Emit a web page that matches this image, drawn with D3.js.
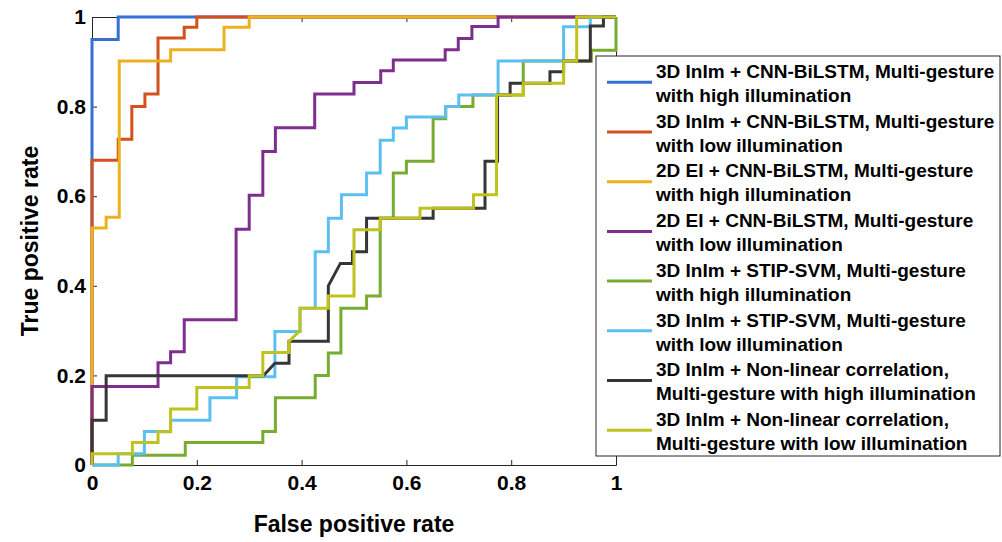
<!DOCTYPE html>
<html>
<head>
<meta charset="utf-8">
<script src="https://cdn.jsdelivr.net/npm/d3@7"></script>
<style>
  html, body { margin: 0; padding: 0; background: #fff; }
  svg { display: block; }
  text { font-family: "Liberation Sans", Arial, Helvetica, sans-serif; font-weight: bold; fill: #000; }
</style>
</head>
<body>
<svg id="chart" width="1002" height="542"></svg>
<script>
// ---------------- DATA ----------------
const xTicks = [0, 0.2, 0.4, 0.6, 0.8, 1];
const yTicks = [0, 0.2, 0.4, 0.6, 0.8, 1];
const xTickLabels = ["0", "0.2", "0.4", "0.6", "0.8", "1"];
const yTickLabels = ["0", "0.2", "0.4", "0.6", "0.8", "1"];
const xLabel = "False positive rate";
const yLabel = "True positive rate";

const legendLine1 = [
  "3D InIm + CNN-BiLSTM, Multi-gesture",
  "3D InIm + CNN-BiLSTM, Multi-gesture",
  "2D EI + CNN-BiLSTM, Multi-gesture",
  "2D EI + CNN-BiLSTM, Multi-gesture",
  "3D InIm + STIP-SVM, Multi-gesture",
  "3D InIm + STIP-SVM, Multi-gesture",
  "3D InIm + Non-linear correlation,",
  "3D InIm + Non-linear correlation,"
];
const legendLine2 = [
  "with high illumination",
  "with low illumination",
  "with high illumination",
  "with low illumination",
  "with high illumination",
  "with low illumination",
  "Multi-gesture with high illumination",
  "Multi-gesture with low illumination"
];
const colors = ["#3471d2", "#d4501c", "#edb120", "#7e2f8e", "#77ac30", "#5cbff2", "#363636", "#c0c21e"];

// 1: 3D InIm + CNN-BiLSTM, high illumination
const fpr1 = [0, 0, 0.05, 0.05, 1];
const tpr1 = [0, 0.95, 0.95, 1, 1];
// 2: 3D InIm + CNN-BiLSTM, low illumination
const fpr2 = [0, 0, 0.05, 0.05, 0.076, 0.076, 0.101, 0.101, 0.126, 0.126, 0.176, 0.176, 0.2, 0.2, 1];
const tpr2 = [0, 0.68, 0.68, 0.727, 0.727, 0.80, 0.80, 0.828, 0.828, 0.953, 0.953, 0.977, 0.977, 1, 1];
// 3: 2D EI + CNN-BiLSTM, high illumination
const fpr3 = [0, 0, 0.027, 0.027, 0.052, 0.052, 0.15, 0.15, 0.252, 0.252, 0.30, 0.30, 1];
const tpr3 = [0, 0.529, 0.529, 0.553, 0.553, 0.902, 0.902, 0.927, 0.927, 0.977, 0.977, 1, 1];
// 4: 2D EI + CNN-BiLSTM, low illumination
const fpr4 = [0, 0, 0.126, 0.126, 0.15, 0.15, 0.176, 0.176, 0.275, 0.275, 0.30, 0.30, 0.326, 0.326, 0.35, 0.35, 0.425, 0.425, 0.50, 0.50, 0.551, 0.551, 0.575, 0.575, 0.674, 0.674, 0.699, 0.699, 0.725, 0.725, 0.775, 0.775, 1];
const tpr4 = [0, 0.175, 0.175, 0.228, 0.228, 0.253, 0.253, 0.324, 0.324, 0.526, 0.526, 0.602, 0.602, 0.70, 0.70, 0.753, 0.753, 0.828, 0.828, 0.854, 0.854, 0.88, 0.88, 0.904, 0.904, 0.927, 0.927, 0.952, 0.952, 0.979, 0.979, 1, 1];
// 5: 3D InIm + STIP-SVM, high illumination
const fpr5 = [0, 0.077, 0.077, 0.178, 0.178, 0.326, 0.326, 0.35, 0.35, 0.426, 0.426, 0.451, 0.451, 0.475, 0.475, 0.524, 0.524, 0.55, 0.55, 0.575, 0.575, 0.60, 0.60, 0.651, 0.651, 0.675, 0.675, 0.727, 0.727, 0.823, 0.823, 0.953, 0.953, 1, 1];
const tpr5 = [0, 0, 0.022, 0.022, 0.05, 0.05, 0.075, 0.075, 0.15, 0.15, 0.20, 0.20, 0.25, 0.25, 0.35, 0.35, 0.377, 0.377, 0.551, 0.551, 0.652, 0.652, 0.678, 0.678, 0.773, 0.773, 0.80, 0.80, 0.826, 0.826, 0.902, 0.902, 0.926, 0.926, 1];
// 6: 3D InIm + STIP-SVM, low illumination
const fpr6 = [0, 0.05, 0.05, 0.10, 0.10, 0.15, 0.15, 0.225, 0.225, 0.276, 0.276, 0.349, 0.349, 0.397, 0.397, 0.426, 0.426, 0.451, 0.451, 0.476, 0.476, 0.524, 0.524, 0.55, 0.55, 0.575, 0.575, 0.60, 0.60, 0.675, 0.675, 0.70, 0.70, 0.775, 0.775, 0.90, 0.90, 0.951, 0.951, 1];
const tpr6 = [0, 0, 0.025, 0.025, 0.075, 0.075, 0.10, 0.10, 0.15, 0.15, 0.197, 0.197, 0.298, 0.298, 0.35, 0.35, 0.476, 0.476, 0.551, 0.551, 0.603, 0.603, 0.652, 0.652, 0.725, 0.725, 0.752, 0.752, 0.777, 0.777, 0.80, 0.80, 0.826, 0.826, 0.902, 0.902, 0.978, 0.978, 1, 1];
// 7: 3D InIm + Non-linear correlation, high illumination
const fpr7 = [0, 0, 0.027, 0.027, 0.327, 0.349, 0.376, 0.376, 0.451, 0.451, 0.474, 0.497, 0.497, 0.524, 0.524, 0.651, 0.651, 0.75, 0.75, 0.774, 0.774, 0.798, 0.798, 0.874, 0.874, 0.90, 0.90, 0.951, 0.951, 0.976, 0.976, 1];
const tpr7 = [0, 0.10, 0.10, 0.199, 0.199, 0.227, 0.227, 0.276, 0.276, 0.40, 0.45, 0.45, 0.476, 0.476, 0.551, 0.551, 0.573, 0.573, 0.678, 0.678, 0.826, 0.826, 0.852, 0.852, 0.878, 0.878, 0.902, 0.902, 0.98, 0.98, 1, 1];
// 8: 3D InIm + Non-linear correlation, low illumination
const fpr8 = [0, 0, 0.077, 0.077, 0.126, 0.126, 0.15, 0.15, 0.20, 0.20, 0.30, 0.30, 0.326, 0.326, 0.376, 0.376, 0.397, 0.397, 0.451, 0.451, 0.50, 0.50, 0.55, 0.55, 0.626, 0.626, 0.728, 0.728, 0.772, 0.772, 0.823, 0.823, 0.90, 0.90, 0.925, 0.925, 1];
const tpr8 = [0, 0.025, 0.025, 0.05, 0.05, 0.074, 0.074, 0.125, 0.125, 0.173, 0.173, 0.199, 0.199, 0.251, 0.251, 0.276, 0.30, 0.35, 0.35, 0.377, 0.377, 0.525, 0.525, 0.551, 0.551, 0.573, 0.573, 0.603, 0.603, 0.826, 0.826, 0.852, 0.852, 0.902, 0.902, 1, 1];

const fprAll = [fpr1, fpr2, fpr3, fpr4, fpr5, fpr6, fpr7, fpr8];
const tprAll = [tpr1, tpr2, tpr3, tpr4, tpr5, tpr6, tpr7, tpr8];

// ---------------- LAYOUT ----------------
const X0 = 92, X1 = 616, Y0 = 465, Y1 = 17;
const svg = d3.select("#chart");
const x = d3.scaleLinear().domain([0, 1]).range([X0, X1]);
const y = d3.scaleLinear().domain([0, 1]).range([Y0, Y1]);

const axisColor = "#262626";
const tickFont = 21;

// Axes (ticks inside, box on)
const gBottom = svg.append("g").attr("transform", `translate(0,${Y0})`)
  .call(d3.axisBottom(x).tickValues(xTicks).tickFormat((d, i) => xTickLabels[i])
    .tickSizeInner(-5).tickSizeOuter(0).tickPadding(10));
const gTop = svg.append("g").attr("transform", `translate(0,${Y1})`)
  .call(d3.axisTop(x).tickValues(xTicks).tickFormat("").tickSizeInner(-5).tickSizeOuter(0));
const gLeft = svg.append("g").attr("transform", `translate(${X0},0)`)
  .call(d3.axisLeft(y).tickValues(yTicks).tickFormat((d, i) => yTickLabels[i])
    .tickSizeInner(-5).tickSizeOuter(0).tickPadding(6));
const gRight = svg.append("g").attr("transform", `translate(${X1},0)`)
  .call(d3.axisRight(y).tickValues(yTicks).tickFormat("").tickSizeInner(-5).tickSizeOuter(0));

[gBottom, gTop, gLeft, gRight].forEach(g => {
  g.select(".domain").attr("stroke", axisColor).attr("stroke-width", 1);
  g.selectAll(".tick line").attr("stroke", axisColor).attr("stroke-width", 1);
  g.selectAll(".tick text").attr("font-size", tickFont).attr("font-weight", "bold")
    .attr("fill", "#000").attr("font-family", '"Liberation Sans", Arial, Helvetica, sans-serif');
});

// Curves
const line = d3.line().x(d => x(d[0])).y(d => y(d[1]));
fprAll.forEach((f, i) => {
  const pts = f.map((v, j) => [v, tprAll[i][j]]);
  svg.append("path")
    .datum(pts)
    .attr("d", line)
    .attr("fill", "none")
    .attr("stroke", colors[i])
    .attr("stroke-width", 3)
    .attr("stroke-linejoin", "miter");
});

// Axis labels
svg.append("text")
  .attr("x", (X0 + X1) / 2).attr("y", 532)
  .attr("text-anchor", "middle").attr("font-size", 23)
  .text(xLabel);
svg.append("text")
  .attr("transform", `translate(38,${(Y0 + Y1) / 2}) rotate(-90)`)
  .attr("text-anchor", "middle").attr("font-size", 23)
  .text(yLabel);

// Legend
const legX = 596, legY = 56, legW = 404, legH = 400;
const lg = svg.append("g");
lg.append("rect").attr("x", legX).attr("y", legY).attr("width", legW).attr("height", legH)
  .attr("fill", "#fff").attr("stroke", axisColor).attr("stroke-width", 1);
const entryStep = 49.7;
legendLine1.forEach((t, i) => {
  const base = legY + 22 + i * entryStep;
  lg.append("line").attr("x1", 607).attr("x2", 652)
    .attr("y1", base + 4.3).attr("y2", base + 4.3)
    .attr("stroke", colors[i]).attr("stroke-width", 3);
  lg.append("text").attr("x", 656).attr("y", base).attr("font-size", 19).text(t);
  lg.append("text").attr("x", 656).attr("y", base + 24).attr("font-size", 19).text(legendLine2[i]);
});
</script>
</body>
</html>
